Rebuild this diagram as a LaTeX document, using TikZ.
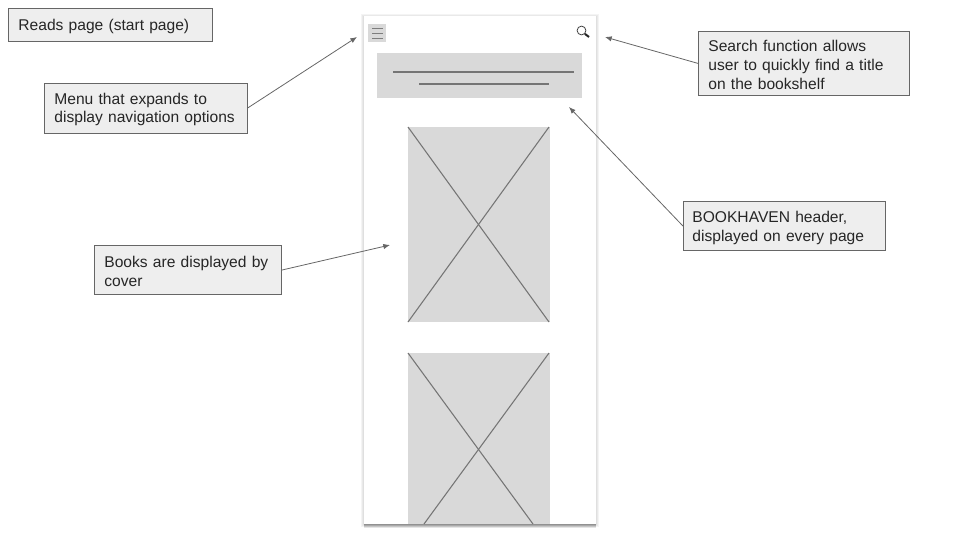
\documentclass[tikz,border=0pt]{standalone}
\usepackage{fontspec}
\setmainfont{Liberation Sans}
\usetikzlibrary{arrows.meta}
\definecolor{notefill}{HTML}{EEEEEE}
\definecolor{wireline}{HTML}{666666}
\definecolor{wirefill}{HTML}{D9D9D9}
\tikzset{
  note/.style={draw=wireline,fill=notefill,line width=0.6pt,anchor=north west,align=left,
    inner xsep=7.5pt,inner ysep=0pt,execute at begin node={\rule{0pt}{10.8pt}},
    text=black!85,font=\fontsize{11.7}{14.1}\selectfont},
  wire/.style={fill=wirefill,inner sep=0pt,anchor=north west},
  pointer/.style={draw=wireline,line width=0.6pt,-{Latex[length=5pt,width=4pt]}},
  stroke/.style={draw=wireline!90,line width=0.8pt}
}
\begin{document}
\begin{tikzpicture}
  [x=0.75pt,y=-0.75pt]
  \useasboundingbox (0,0) rectangle (960,540);
  % shadow of the phone
  \foreach \d in {1,2,3}
    \fill[black,opacity=0.045] (364-\d,16-\d+1) rectangle (596+\d,524+\d);
  \foreach \d in {1,2,3,4}
    \fill[black,opacity=0.1] (364,520) rectangle (596,524+\d);
  \node[fill=white,inner sep=0pt,anchor=north west,minimum width=174pt,minimum height=381pt] (phone) at (364,16) {};

  \node[wire,minimum width=13.5pt,minimum height=13.5pt] (menubtn) at (368,24) {};
  \node[wire,minimum width=153.75pt,minimum height=33.75pt] (header) at (377,53) {};
  \node[wire,minimum width=106.5pt,minimum height=146.25pt] (cover1) at (408,127) {};
  \node[wire,minimum width=106.5pt,minimum height=128.25pt] (cover2) at (408,353) {};

  % menu icon and search icon
  \foreach \y in {28,33,38}
    \draw[wireline!85,line width=0.7pt] (372,\y) -- (382.5,\y);
  \node[circle,draw=black!75,line width=0.6pt,inner sep=0pt,minimum size=6.6pt] (lens) at (581.5,30.5) {};
  \coordinate (handle) at (589,37);
  \draw[black!85,line width=1.5pt] (lens.south east) -- (handle);

  % title lines in the header
  \coordinate (h1a) at (393,72);
  \coordinate (h1b) at (574,72);
  \coordinate (h2a) at (419,84);
  \coordinate (h2b) at (549,84);
  \coordinate (c1a) at (549,322);
  \coordinate (c1b) at (408,322);
  \coordinate (c1c) at (549,127);
  \coordinate (c2c) at (549,353);
  \coordinate (c2a) at (533,524);
  \coordinate (c2b) at (424,524);
  \foreach \from/\to in {h1a/h1b,h2a/h2b,cover1.north west/c1a,
  c1c/c1b,cover2.north west/c2a,c2c/c2b}
    \draw[stroke] (\from) -- (\to);

  % notes
  \node[note,minimum width=153pt,minimum height=24.75pt,text width=138pt] (reads) at (8,8) {Reads page (start page)};
  \node[note,minimum width=152.25pt,minimum height=37.5pt,text width=137.25pt] (menu) at (44,82.5) {Menu that expands to\\display navigation options};
  \node[note,minimum width=140.25pt,minimum height=37pt,text width=125.25pt] (books) at (94,245) {Books are displayed by\\cover};
  \node[note,minimum width=158.25pt,minimum height=48pt,text width=143.25pt] (search) at (698,31) {Search function allows\\user to quickly find a title\\on the bookshelf};
  \node[note,minimum width=151.5pt,minimum height=37pt,text width=138pt,inner xsep=6.75pt] (bookhaven) at (683,201) {BOOKHAVEN header,\\displayed on every page};

  % free ends of the pointers
  \coordinate (menutip) at (357,37);
  \coordinate (bookstip) at (390,245);
  \coordinate (searchtip) at (605,37);
  \coordinate (headertip) at (569,107);
  \draw[pointer] (menu.east) -- (menutip);
  \draw[pointer] (books.east) -- (bookstip);
  \draw[pointer] (search.west) -- (searchtip);
  \draw[pointer] (bookhaven.west) -- (headertip);
\end{tikzpicture}
\end{document}
